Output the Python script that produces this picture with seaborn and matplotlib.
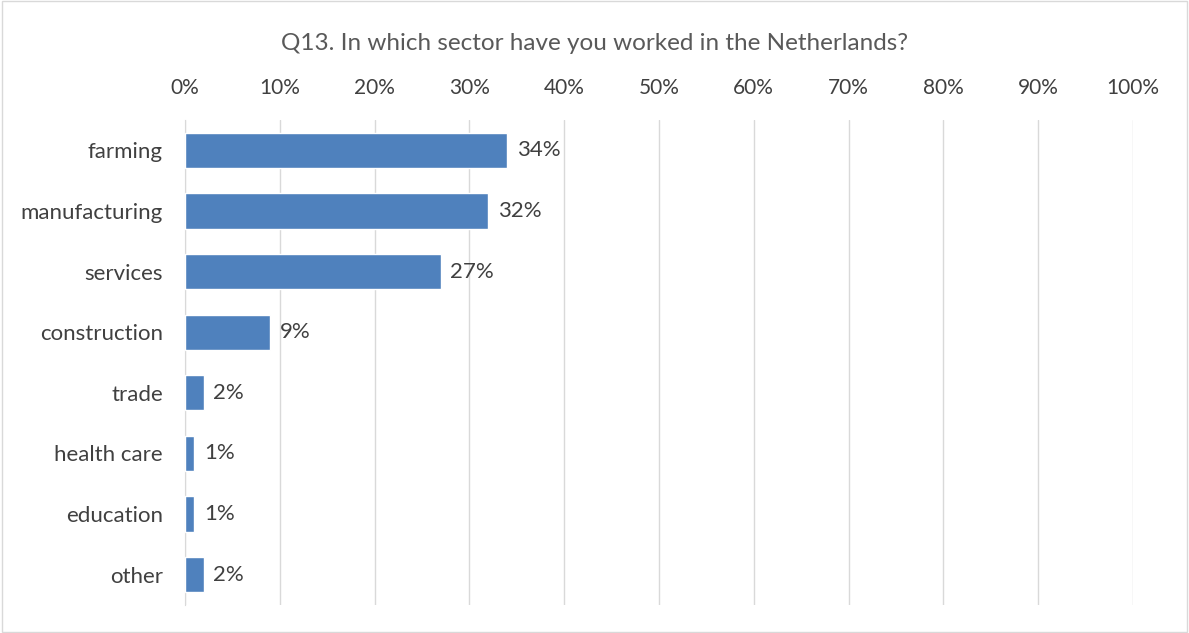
import matplotlib
matplotlib.use("Agg")
import matplotlib.pyplot as plt
import seaborn as sns
import pandas as pd
from matplotlib.ticker import FuncFormatter, MultipleLocator

# data
sectors = ["farming", "manufacturing", "services", "construction",
           "trade", "health care", "education", "other"]
shares = [34, 32, 27, 9, 2, 1, 1, 2]

df = pd.DataFrame({"sector": sectors, "share": shares})

sns.set_style("white")
plt.rcParams['font.family'] = ['Lato', 'DejaVu Sans']

fig = plt.figure(figsize=(11.89, 6.33), dpi=100)
ax = fig.add_axes([185 / 1189, 1 - 605 / 633, (1133 - 185) / 1189, (605 - 120) / 633])

sns.barplot(data=df, x="share", y="sector", color="#4F81BD", width=0.58,
            saturation=1, ax=ax, zorder=3)

ax.set_xlim(0, 100)
ax.xaxis.set_major_locator(MultipleLocator(10))
ax.xaxis.set_major_formatter(FuncFormatter(lambda v, _: f"{v:.0f}%"))
ax.xaxis.tick_top()
ax.grid(axis="x", color="#D9D9D9", linewidth=1, zorder=0)
ax.tick_params(axis="y", length=0, labelsize=16, colors="#404040", pad=16)
ax.tick_params(axis="x", length=0, labelsize=15, colors="#404040", pad=16)
ax.set_xlabel("")
ax.set_ylabel("")
for s in ["top", "right", "bottom"]:
    ax.spines[s].set_visible(False)
ax.spines["left"].set_color("#D9D9D9")

for i, v in enumerate(shares):
    ax.text(v + 1.0, i, f"{v}%", va="center", ha="left", fontsize=16, color="#404040")

fig.text(0.5, 1 - 44 / 633, "Q13. In which sector have you worked in the Netherlands?",
         ha="center", va="center", fontsize=17.5, color="#595959")

# light border around the whole chart area
fig.patches.append(plt.Rectangle((0.002, 0.002), 0.996, 0.996, transform=fig.transFigure,
                                 fill=False, edgecolor="#D9D9D9", linewidth=1))

fig.savefig("out.png", dpi=100)
